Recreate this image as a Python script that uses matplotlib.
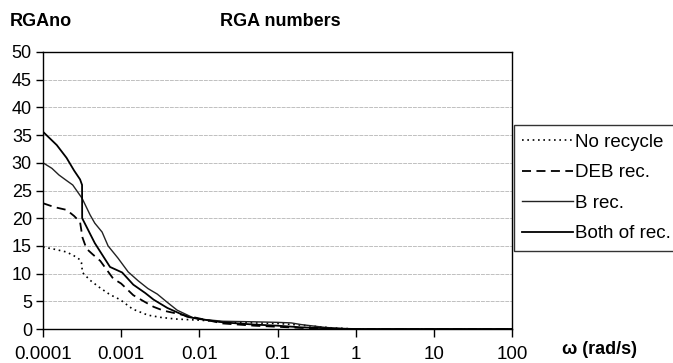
import matplotlib
matplotlib.use("Agg")
import matplotlib.pyplot as plt
from matplotlib.ticker import FixedLocator, FixedFormatter, NullLocator

plt.rcParams['font.family'] = ['Liberation Sans', 'DejaVu Sans']

# ---- data ----
w_no = [1e-4, 1.4e-4, 2.0e-4, 2.5e-4, 2.98e-4, 3.1e-4, 3.2e-4, 4.0e-4, 5.4e-4, 7.2e-4,
        9.7e-4, 1.4e-3, 2.2e-3, 3.2e-3, 5.0e-3, 7.0e-3, 1.0e-2, 2e-2, 5e-2, 0.1, 0.2,
        0.5, 1.0, 2.0, 10.0, 100.0]
v_no = [14.8, 14.4, 13.9, 13.2, 12.5, 12.0, 10.2, 8.8, 7.4, 6.2,
        5.3, 3.6, 2.5, 2.1, 1.8, 1.7, 1.6, 1.3, 1.1, 1.0, 0.7,
        0.2, 0.0, 0.0, 0.0, 0.0]

w_deb = [1e-4, 1.4e-4, 2.0e-4, 2.5e-4, 2.98e-4, 3.2e-4, 3.6e-4, 4.3e-4, 5.4e-4, 7.9e-4,
         1.0e-3, 1.43e-3, 2.0e-3, 2.6e-3, 3.5e-3, 5.5e-3, 1.0e-2, 2e-2, 5e-2, 0.1, 0.2,
         0.5, 1.0, 2.0, 10.0, 100.0]
v_deb = [22.7, 22.0, 21.5, 20.4, 19.3, 16.5, 14.5, 13.5, 12.3, 9.1,
         8.2, 6.1, 4.9, 4.0, 3.3, 2.7, 1.9, 1.0, 0.6, 0.4, 0.2,
         0.05, 0.0, 0.0, 0.0, 0.0]

w_b = [1e-4, 1.3e-4, 1.6e-4, 2.0e-4, 2.4e-4, 3.16e-4, 4.0e-4, 4.6e-4, 5.7e-4,
       6.8e-4, 9.1e-4, 1.23e-3, 1.65e-3, 2.2e-3, 2.9e-3, 3.9e-3, 5.2e-3, 8.4e-3, 1.0e-2,
       2e-2, 5e-2, 0.1, 0.15, 0.2, 0.4, 0.7, 1.0, 2.0, 10.0, 100.0]
v_b = [30.0, 29.0, 27.8, 26.8, 26.0, 23.6, 20.6, 19.1, 17.5,
       15.0, 12.8, 10.3, 8.7, 7.3, 6.3, 4.8, 3.4, 2.0, 1.8,
       1.4, 1.3, 1.2, 1.1, 0.8, 0.3, 0.05, 0.0, 0.0, 0.0, 0.0]

w_both = [1e-4, 1.5e-4, 2.0e-4, 2.5e-4, 2.98e-4, 3.16e-4, 3.17e-4, 4.6e-4, 7.2e-4, 1.03e-3,
          1.43e-3, 2.03e-3, 2.6e-3, 3.9e-3, 7.0e-3, 1.0e-2, 2e-2, 5e-2, 0.1, 0.2,
          0.5, 1.0, 2.0, 10.0, 100.0]
v_both = [35.6, 33.2, 30.9, 28.6, 27.0, 26.0, 20.0, 15.5, 11.2, 10.2,
          8.0, 6.5, 5.3, 3.8, 2.2, 1.8, 1.2, 0.8, 0.6, 0.3,
          0.1, 0.0, 0.0, 0.0, 0.0]

labels = ['No recycle', 'DEB rec.', 'B rec.', 'Both of rec.']
x_ticks = [1e-4, 1e-3, 1e-2, 1e-1, 1, 10, 100]
x_ticklabels = ['0.0001', '0.001', '0.01', '0.1', '1', '10', '100']
y_ticks = [0, 5, 10, 15, 20, 25, 30, 35, 40, 45, 50]

# ---- figure ----
fig = plt.figure(figsize=(6.73, 3.63), dpi=100)
ax = fig.add_axes([43/673, 1-329/363, (512-43)/673, (329-52)/363])

ax.plot(w_no, v_no, color='black', lw=1.2, linestyle=(0, (1, 2.2)), label=labels[0])
ax.plot(w_deb, v_deb, color='black', lw=1.3, linestyle=(0, (5, 3)), label=labels[1])
ax.plot(w_b, v_b, color='#222222', lw=1.0, label=labels[2])
ax.plot(w_both, v_both, color='black', lw=1.3, label=labels[3])

ax.set_xscale('log')
ax.set_xlim(1e-4, 100)
ax.set_ylim(0, 50)
ax.xaxis.set_major_locator(FixedLocator(x_ticks))
ax.xaxis.set_major_formatter(FixedFormatter(x_ticklabels))
ax.xaxis.set_minor_locator(NullLocator())
ax.set_yticks(y_ticks)

ax.grid(axis='y', color='#c0c0c0', lw=0.7, linestyle=(0, (4, 1)))
ax.set_axisbelow(True)
for s in ax.spines.values():
    s.set_color('black')
    s.set_linewidth(1.0)

ax.tick_params(axis='y', direction='out', length=5, width=1, labelsize=13, pad=3)
ax.tick_params(axis='x', direction='out', length=6, width=1, labelsize=13.5, pad=6)

fig.text(10/673, 1-22/363, 'RGAno', fontsize=13, fontweight='bold', va='center', ha='left')
fig.text(280/673, 1-22/363, 'RGA numbers', fontsize=13, fontweight='bold', va='center', ha='center')
fig.text(600/673, 1-350/363, 'ω (rad/s)', fontsize=13, fontweight='bold', va='center', ha='center')

leg = fig.legend(loc='upper left', bbox_to_anchor=(514/673, 1-125/363),
                 frameon=True, fontsize=13.5, handlelength=2.7, handletextpad=0.1,
                 labelspacing=0.72, borderpad=0.45, borderaxespad=0, fancybox=False)
leg.get_frame().set_edgecolor('black')
leg.get_frame().set_linewidth(1.0)

fig.savefig('out.png', dpi=100)
